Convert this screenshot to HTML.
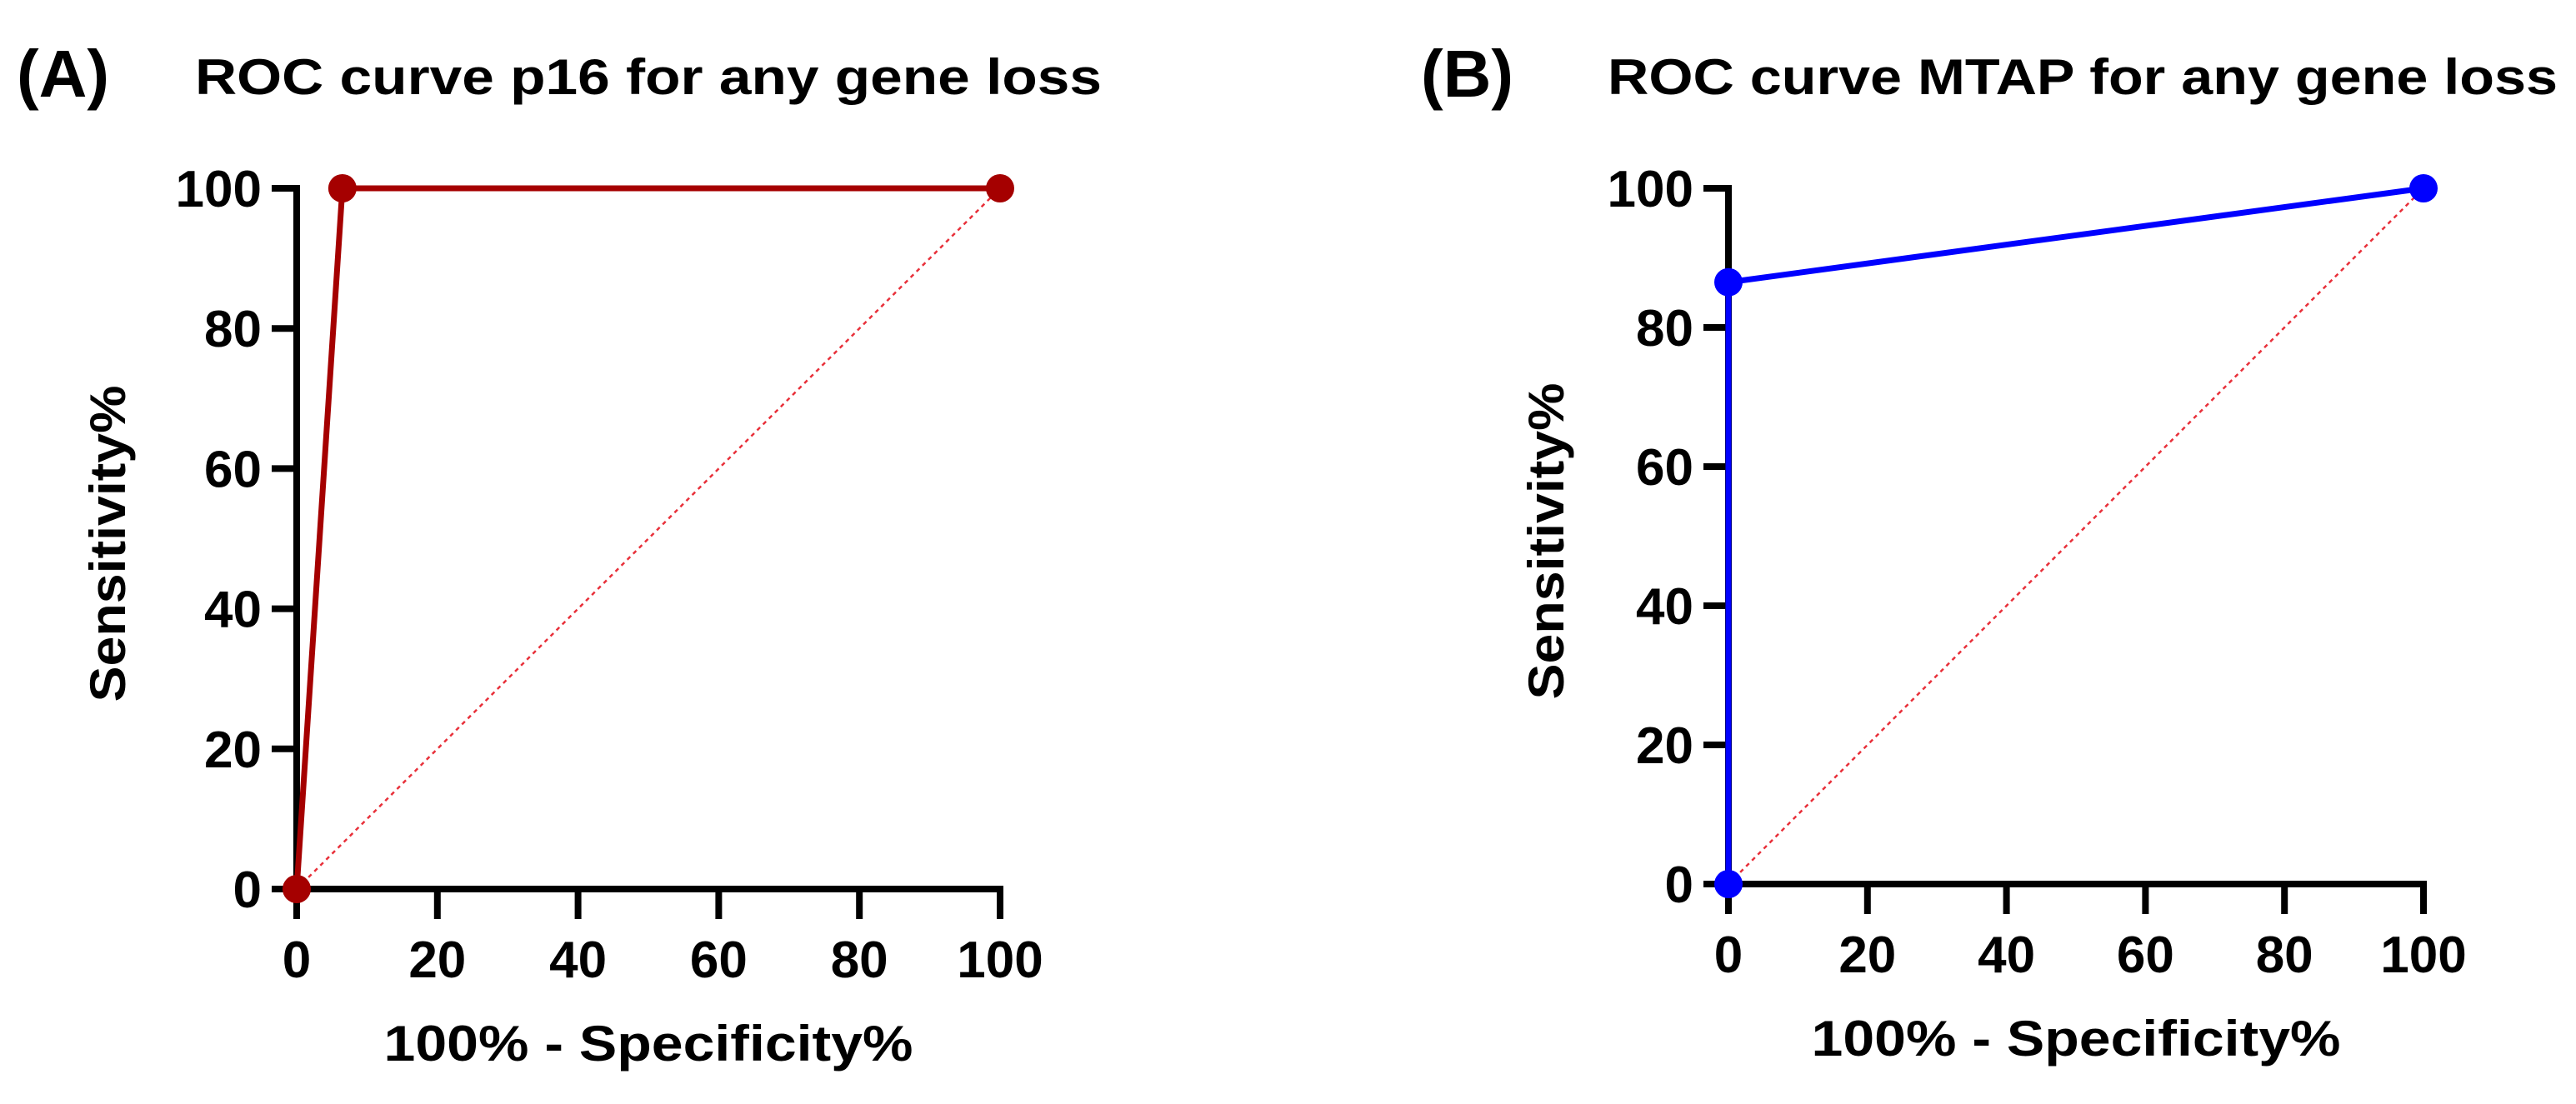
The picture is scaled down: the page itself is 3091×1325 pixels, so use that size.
<!DOCTYPE html>
<html><head><meta charset="utf-8"><style>
html,body{margin:0;padding:0;background:#fff;}
svg{display:block;font-family:"Liberation Sans",Arial,sans-serif;font-weight:bold;}
</style></head><body>
<svg id="fig" width="3091" height="1325" viewBox="0 0 3091 1325"></svg>
<script>
// Panel A data (p16)
const xA = [0, 6.5, 100];
const yA = [0, 100, 100];
// Panel B data (MTAP)
const xB = [0, 0, 100];
const yB = [0, 86.5, 100];
const ticks = [0, 20, 40, 60, 80, 100];
const tickLabels = ["0", "20", "40", "60", "80", "100"];

const NS = "http://www.w3.org/2000/svg";
const svg = document.getElementById("fig");
function mk(tag, attrs, parent) {
  const e = document.createElementNS(NS, tag);
  for (const k in attrs) e.setAttribute(k, attrs[k]);
  (parent || svg).appendChild(e);
  return e;
}
function panel(p) {
  const g = mk("g", {});
  
  
  const sx = v => p.x0 + (p.x1 - p.x0) * v / 100;
  const sy = v => p.y0 + (p.y1 - p.y0) * v / 100;
  const lab = mk("text", {x: p.labX, y: 116, "font-size": 80, fill: "#000"}, g);
  lab.textContent = p.label;
  
  
  const t = mk("text", {x: p.titleX, y: 113, "font-size": 60, fill: "#000", textLength: p.titleW, lengthAdjust: "spacingAndGlyphs"}, g);
  t.textContent = p.title;
  
  
  const d = mk("line", {x1: sx(0), y1: sy(0), x2: sx(100), y2: sy(100), stroke: "#e8303a", "stroke-width": 2.5, "stroke-dasharray": "5 5"}, g);
  
  
  const ya = mk("line", {x1: sx(0), y1: sy(0) + 4, x2: sx(0), y2: sy(100) - 4, stroke: "#000", "stroke-width": 8}, g);
  
  
  const xa = mk("line", {x1: sx(0) - 4, y1: sy(0), x2: sx(100) + 4, y2: sy(0), stroke: "#000", "stroke-width": 8}, g);
  
  
  ticks.forEach((v, i) => {
    const tk = mk("line", {x1: sx(0) - 30, y1: sy(v), x2: sx(0), y2: sy(v), stroke: "#000", "stroke-width": 8}, g);
    
    
    const tl = mk("text", {x: sx(0) - 42, y: sy(v) + 22, "font-size": 62, "text-anchor": "end", fill: "#000"}, g);
    tl.textContent = tickLabels[i];
    
    
    const tx = mk("line", {x1: sx(v), y1: sy(0), x2: sx(v), y2: sy(0) + 36, stroke: "#000", "stroke-width": 8}, g);
    
    
    const xl = mk("text", {x: sx(v), y: sy(0) + 106, "font-size": 62, "text-anchor": "middle", fill: "#000"}, g);
    xl.textContent = tickLabels[i];
    
    
  });
  const xt = mk("text", {x: (sx(0) + sx(100)) / 2, y: sy(0) + 206, "font-size": 60, "text-anchor": "middle", fill: "#000", textLength: 635, lengthAdjust: "spacingAndGlyphs"}, g);
  xt.textContent = "100% - Specificity%";
  
  
  const cy = (sy(0) + sy(100)) / 2 + 6;
  const yt = mk("text", {x: 0, y: 0, "font-size": 60, "text-anchor": "middle", fill: "#000", transform: `translate(${p.ytX},${cy}) rotate(-90)`, textLength: 380, lengthAdjust: "spacingAndGlyphs"}, g);
  yt.textContent = "Sensitivity%";
  
  
  const pts = p.xs.map((v, i) => sx(v) + "," + sy(p.ys[i])).join(" ");
  const pl = mk("polyline", {points: pts, fill: "none", stroke: p.color, "stroke-width": 7, "stroke-linejoin": "round"}, g);
  
  
  p.xs.forEach((v, i) => {
    const c = mk("circle", {cx: sx(v), cy: sy(p.ys[i]), r: 17, fill: p.color}, g);
    
    
  });
}
panel({id: "p16", label: "(A)", labX: 20, title: "ROC curve p16 for any gene loss", titleX: 234, titleW: 1088,
  x0: 356, x1: 1200, y0: 1067, y1: 226, ytX: 150, xs: xA, ys: yA, color: "#a50000"});
panel({id: "mtap", label: "(B)", labX: 1705, title: "ROC curve MTAP for any gene loss", titleX: 1929, titleW: 1140,
  x0: 2074, x1: 2908, y0: 1061, y1: 226, ytX: 1876, xs: xB, ys: yB, color: "#0000ff"});
</script>
</body></html>
